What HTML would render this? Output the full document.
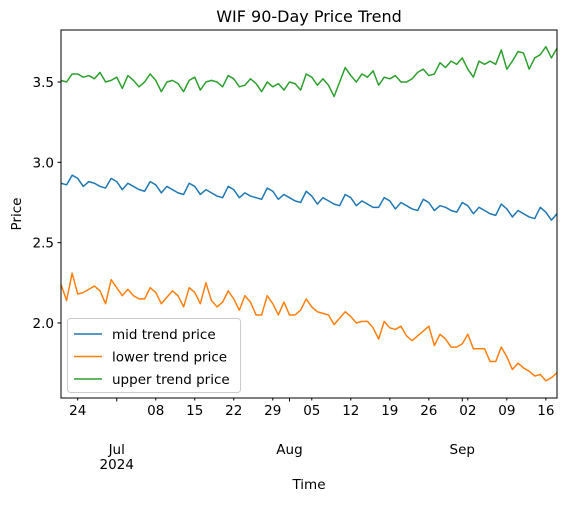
<!DOCTYPE html>
<html><head><meta charset="utf-8"><style>
body{margin:0;background:#fff;}
svg{font-family:"DejaVu Sans","Liberation Sans",sans-serif;}
</style></head><body>
<svg id="chart" width="567" height="501" viewBox="0 0 567 501">
<text x="309" y="22" text-anchor="middle" font-size="16">WIF 90-Day Price Trend</text>
<text transform="translate(21,214) rotate(-90)" text-anchor="middle" font-size="13.5">Price</text>
<text x="309" y="489" text-anchor="middle" font-size="13.5">Time</text>
<g id="axes"></g>
<g id="series"></g>
<rect x="61" y="30" width="496" height="368" fill="none" stroke="#000" stroke-width="1"/>
<g id="legend">
<rect x="67.5" y="318.5" width="173" height="74" rx="3" fill="#fff" fill-opacity="0.8" stroke="#ccc"/>
</g>
</svg>
<script>
const midValues=[2.87,2.86,2.92,2.90,2.85,2.88,2.87,2.85,2.84,2.90,2.88,2.83,2.87,2.85,2.83,2.82,2.88,2.86,2.81,2.85,2.83,2.81,2.80,2.87,2.85,2.80,2.83,2.81,2.79,2.78,2.85,2.83,2.78,2.81,2.79,2.78,2.77,2.84,2.82,2.77,2.80,2.78,2.76,2.75,2.82,2.79,2.74,2.78,2.76,2.74,2.73,2.80,2.78,2.73,2.76,2.74,2.72,2.72,2.78,2.76,2.71,2.75,2.73,2.71,2.70,2.77,2.75,2.70,2.73,2.72,2.70,2.69,2.75,2.73,2.68,2.72,2.70,2.68,2.67,2.74,2.71,2.66,2.70,2.68,2.66,2.65,2.72,2.69,2.64,2.68];
const lowerValues=[2.24,2.14,2.31,2.18,2.19,2.21,2.23,2.20,2.12,2.27,2.22,2.17,2.21,2.17,2.15,2.15,2.22,2.19,2.12,2.16,2.20,2.17,2.10,2.22,2.19,2.12,2.25,2.14,2.10,2.13,2.20,2.15,2.08,2.17,2.13,2.05,2.05,2.17,2.12,2.05,2.13,2.05,2.05,2.08,2.15,2.10,2.07,2.06,2.05,1.99,2.03,2.07,2.04,2.00,2.01,2.01,1.97,1.90,2.01,1.97,1.96,1.98,1.92,1.89,1.92,1.95,1.98,1.86,1.93,1.90,1.85,1.85,1.87,1.93,1.84,1.84,1.84,1.76,1.76,1.85,1.79,1.71,1.75,1.72,1.70,1.67,1.68,1.64,1.66,1.69];
const upperValues=[3.51,3.50,3.55,3.55,3.53,3.54,3.52,3.56,3.50,3.51,3.53,3.46,3.54,3.51,3.47,3.50,3.55,3.51,3.44,3.50,3.51,3.49,3.44,3.51,3.53,3.45,3.50,3.51,3.50,3.47,3.54,3.52,3.47,3.48,3.52,3.49,3.44,3.50,3.47,3.49,3.45,3.50,3.49,3.45,3.55,3.53,3.48,3.52,3.48,3.41,3.50,3.59,3.54,3.50,3.55,3.53,3.57,3.48,3.53,3.52,3.54,3.50,3.50,3.52,3.56,3.58,3.54,3.55,3.62,3.59,3.63,3.61,3.65,3.58,3.53,3.63,3.61,3.63,3.61,3.70,3.58,3.63,3.69,3.68,3.58,3.65,3.67,3.72,3.65,3.71];
const yTicks=[2.0,2.5,3.0,3.5];
const yTickLabels=["2.0","2.5","3.0","3.5"];
const dayTickIdx=[3,17,24,31,38,45,52,59,66,73,80,87];
const dayTickLabels=["24","08","15","22","29","05","12","19","26","02","09","16"];
const monthTickIdx=[10,41,72];
const monthTickLabels=["Jul\n2024","Aug","Sep"];
const seriesNames=["mid trend price","lower trend price","upper trend price"];
const seriesColors=["#1f77b4","#ff7f0e","#2ca02c"];

const NS="http://www.w3.org/2000/svg";
const X0=61,X1=557,N=90;
function xs(i){return X0+i*(X1-X0)/(N-1);}
function ys(v){return 323-(v-2.0)*(241/1.5);}
function mk(tag,attrs,parent){const e=document.createElementNS(NS,tag);for(const k in attrs)e.setAttribute(k,attrs[k]);parent.appendChild(e);return e;}
const axes=document.getElementById('axes');
yTicks.forEach((v,k)=>{
  const t=mk('line',{x1:57.5,x2:61,y1:ys(v),y2:ys(v),stroke:'#000'},axes);
  
  
  const l=mk('text',{x:54,y:ys(v)+5,'text-anchor':'end','font-size':'13.5'},axes);
  l.textContent=yTickLabels[k];
  
  
});
dayTickIdx.forEach((d,k)=>{
  const t=mk('line',{x1:xs(d),x2:xs(d),y1:398,y2:400.5,stroke:'#000'},axes);
  
  
  const l=mk('text',{x:xs(d),y:415,'text-anchor':'middle','font-size':'13.5'},axes);
  l.textContent=dayTickLabels[k];
  
  
});
monthTickIdx.forEach((d,k)=>{
  const t=mk('line',{x1:xs(d),x2:xs(d),y1:398,y2:401.5,stroke:'#000'},axes);
  
  
  monthTickLabels[k].split('\n').forEach((s,j)=>{
    const l=mk('text',{x:xs(d),y:454+j*15,'text-anchor':'middle','font-size':'13.5'},axes);
    l.textContent=s;
    
    
  });
});
const ser=document.getElementById('series');
[midValues,lowerValues,upperValues].forEach((arr,s)=>{
  const p=mk('polyline',{points:arr.map((v,i)=>xs(i).toFixed(2)+','+ys(v).toFixed(2)).join(' '),fill:'none',stroke:seriesColors[s],'stroke-width':1.5,'stroke-linejoin':'round'},ser);
  
  
});
const leg=document.getElementById('legend');
seriesNames.forEach((n,s)=>{
  const y=334+s*22.5;
  const l=mk('line',{x1:74,x2:102,y1:y,y2:y,stroke:seriesColors[s],'stroke-width':1.5},leg);
  
  
  const t=mk('text',{x:112,y:y+5,'font-size':'13.5'},leg);
  t.textContent=n;
  
  
});
</script>
</body></html>
